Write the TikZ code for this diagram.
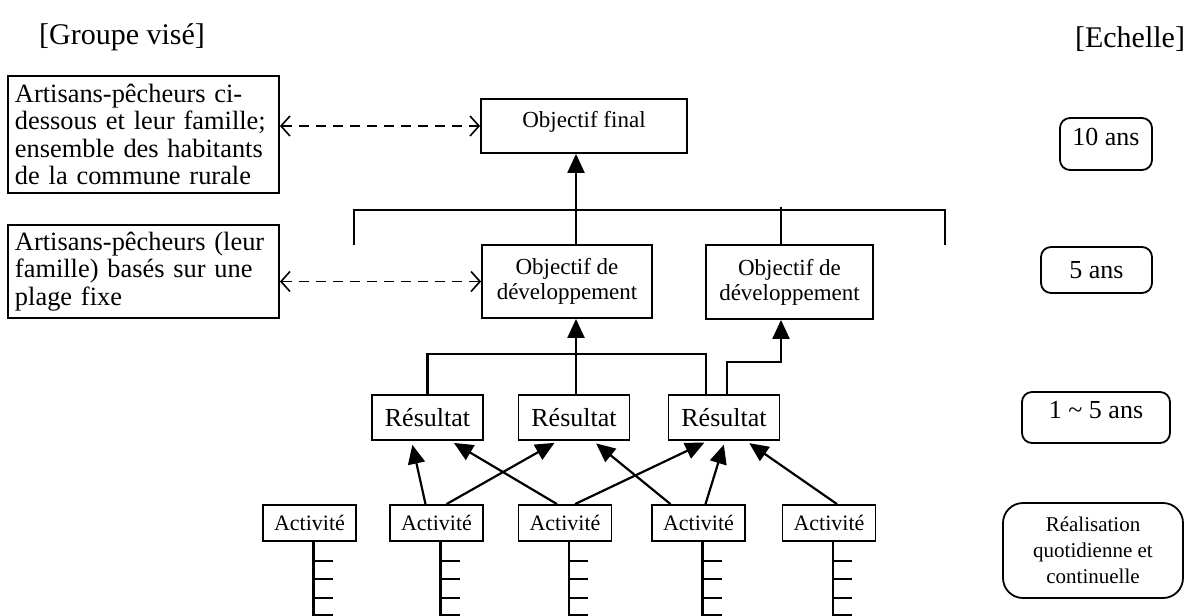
\documentclass[tikz,border=0pt]{standalone}
\usepackage{fontspec}
\setmainfont{Liberation Serif}
\usetikzlibrary{positioning,arrows.meta}

\begin{document}
\begin{tikzpicture}[x=0.5pt,y=-0.5pt,
		g/.style={rectangle,draw,line width=0.9pt,inner sep=3.5pt,align=left,text width=128.5pt,font=\fontsize{13.2}{13.6}\selectfont},
		o/.style={rectangle,draw,line width=0.9pt,inner sep=2pt,align=center,font=\fontsize{11.5}{12.5}\selectfont},
		r/.style={rectangle,draw,line width=0.9pt,inner sep=2pt,minimum width=55.5pt,minimum height=22.5pt,font=\fontsize{13}{14}\selectfont},
		k/.style={rectangle,draw,line width=0.9pt,inner sep=2pt,minimum width=46.5pt,minimum height=18pt,font=\fontsize{11}{12}\selectfont},
		e/.style={rectangle,draw,line width=0.9pt,rounded corners=5pt,inner sep=2pt,align=center,font=\fontsize{13}{14}\selectfont},
		hi/.style={text height=9pt,text depth=8pt},
		t/.style={font=\fontsize{15}{17}\selectfont},
		w/.style={draw,line width=1.1pt},
		a/.style={draw,line width=1.1pt,-{Triangle[length=9.5pt,width=8.5pt]}},
		d/.style={draw,line width=0.8pt,dash pattern=on 5pt off 3.5pt,{Straight Barb[length=4.5pt,width=10pt]}-{Straight Barb[length=4.5pt,width=10pt]}}
		]
		
		\useasboundingbox (0,0) rectangle (1184,616);
		
		\node [t] (groupe) at (122,37) {[Groupe visé]};
		\node [t] (echelle) at (1130,39) {[Echelle]};
		
		\node [g,minimum height=58.5pt] (grp1) at (143.5,134.5) {Artisans-pêcheurs ci-\\dessous et leur famille;\\ensemble des habitants\\de la commune rurale};
		\node [g,minimum height=46.5pt] (grp2) at (143.5,271.5) {Artisans-pêcheurs (leur\\famille) basés sur une\\plage fixe};
		
		\node [o,hi,minimum width=103pt,minimum height=27pt] (final) at (584,126) {Objectif final};
		\node [o,minimum width=85pt,minimum height=36.5pt] (dev1) at (567,281.5) {Objectif de\\développement};
		\node [o,minimum width=83.5pt,minimum height=37pt] (dev2) at (789.5,282) {Objectif de\\développement};
		
		\node [r] (res1) at (427.5,417.5) {Résultat};
		\node [r] (res2) at (574,417.5) {Résultat};
		\node [r] (res3) at (724,417.5) {Résultat};
		
		\node [k] (act1) at (309.5,523) {Activité};
		\node [k] (act2) at (436.5,523) {Activité};
		\node [k] (act3) at (565,523) {Activité};
		\node [k] (act4) at (698.5,523) {Activité};
		\node [k] (act5) at (829,523) {Activité};
		
		\node [e,hi,minimum width=46pt,minimum height=26pt] (ech10) at (1106,144) {10 ans};
		\node [e,minimum width=55.5pt,minimum height=23pt] (ech5) at (1096.5,270) {5 ans};
		\node [e,hi,minimum width=74pt,minimum height=25.5pt] (ech15) at (1096,417.5) {1 \textasciitilde\ 5 ans};
		\node [e,rounded corners=10pt,minimum width=90pt,minimum height=47.5pt,font=\fontsize{10.5}{13}\selectfont] (echq) at (1093,550.5) {Réalisation\\quotidienne et\\continuelle};
		
		\coordinate (barL) at (354,245);
		\coordinate (barR) at (945,245);
		
		% groupes vises
		\path [d] (final.west -| grp1.east) -- (final.west);
		\path [d] (dev1.west -| grp2.east) -- (dev1.west);
		
		% objectifs
		\path [w] (barL) -- ++(0,-35) -| (barR);
		\path [w] ([xshift=-4.25pt]dev2.north) -- ++(0,-37);
		\path [a] ([xshift=4.5pt]dev1.north) -- ([xshift=4.5pt]dev1.north |- final.south);
		
		% resultats
		\path [w] (res1.north) -- ++(0,-40) -| ([xshift=-9pt]res3.north);
		\path [a] ([xshift=4.5pt]dev1.south |- res2.north) -- ([xshift=4.5pt]dev1.south);
		\path [a] ([xshift=1.5pt]res3.north) -- ++(0,-32) -| ([xshift=-4.25pt]dev2.south);
		
		% activites
		\path [a,shorten >=2pt] ([xshift=-5.5pt]act2.north) -- ([xshift=-8pt]res1.south);
		\path [a,shorten >=2pt] ([xshift=5pt]act2.north) -- ([xshift=-8pt]res2.south);
		\path [a,shorten >=2pt] ([xshift=-4pt]act3.north) -- ([xshift=11.5pt]res1.south);
		\path [a,shorten >=2pt] ([xshift=5pt]act3.north) -- ([xshift=-8pt]res3.south);
		\path [a,shorten >=2pt] ([xshift=-14pt]act4.north) -- ([xshift=9.5pt]res2.south);
		\path [a,shorten >=2pt] ([xshift=3.5pt]act4.north) -- ([xshift=0.5pt]res3.south);
		\path [a,shorten >=2pt] ([xshift=4pt]act5.north) -- ([xshift=11pt]res3.south);
		
		\foreach \n in {act1,act2,act3,act4,act5} {
			\path [w] ([xshift=2pt]\n.south) -- ++(0,73) -- ++(19,0);
			\foreach \y in {19,37,56}
				\path [w] ([xshift=2pt]\n.south) ++(0,\y) -- ++(19,0);
		}
		
	\end{tikzpicture}
\end{document}
